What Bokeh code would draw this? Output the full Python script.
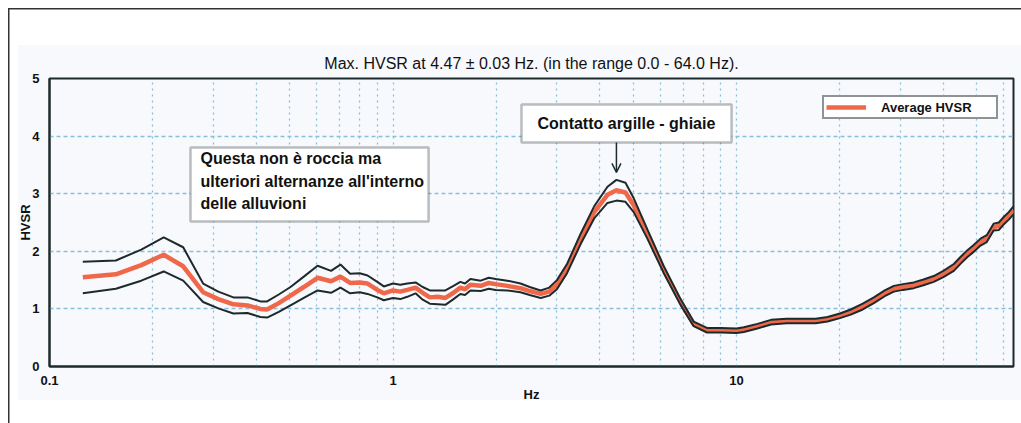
from bokeh.plotting import figure
from bokeh.models import (Range1d, FixedTicker, Label, BoxAnnotation, Arrow, OpenHead,
                          Legend, LegendItem, ColumnDataSource)
from bokeh.embed import file_html
from bokeh.resources import INLINE

# HVSR spectrum: frequency (Hz), average curve and the +/- standard deviation curves
freq = [0.125, 0.156, 0.185, 0.215, 0.245, 0.28, 0.31, 0.343, 0.377, 0.411, 0.43, 0.465,
        0.503, 0.55, 0.603, 0.66, 0.703, 0.75, 0.80, 0.843, 0.90, 0.94, 1.0, 1.05, 1.10,
        1.163, 1.22, 1.28, 1.35, 1.42, 1.50, 1.57, 1.62, 1.68, 1.80, 1.90, 1.99, 2.15,
        2.35, 2.5, 2.69, 2.85, 3.0, 3.21, 3.52, 3.85, 4.21, 4.47, 4.75, 5.02, 5.5, 6.14,
        6.87, 7.5, 8.2, 9.0, 10.0, 10.5, 11.5, 12.6, 14.0, 15.4, 17.0, 18.4, 20.0, 21.5,
        23.3, 25.1, 27.0, 28.7, 30.5, 32.8, 35.0, 37.5, 40.0, 42.9, 45.0, 47.0, 49.0,
        51.3, 53.5, 56.0, 58.0, 59.8, 62.0, 64.0]
hvsr_avg = [1.55, 1.60, 1.76, 1.94, 1.74, 1.29, 1.17, 1.08, 1.06, 1.00, 0.99, 1.10,
            1.23, 1.38, 1.54, 1.48, 1.56, 1.45, 1.46, 1.44, 1.33, 1.27, 1.32, 1.30, 1.33,
            1.37, 1.28, 1.20, 1.21, 1.19, 1.28, 1.37, 1.34, 1.42, 1.40, 1.45, 1.43, 1.40,
            1.36, 1.31, 1.26, 1.30, 1.42, 1.70, 2.22, 2.68, 2.98, 3.06, 3.02, 2.80, 2.30, 1.68,
            1.12, 0.74, 0.63, 0.63, 0.62, 0.64, 0.70, 0.77, 0.79, 0.79, 0.79, 0.82, 0.88, 0.94,
            1.04, 1.15, 1.27, 1.35, 1.38, 1.41, 1.46, 1.52, 1.60, 1.72, 1.85, 1.96, 2.05,
            2.16, 2.22, 2.42, 2.44, 2.53, 2.62, 2.72]
hvsr_hi = [1.82, 1.84, 2.03, 2.24, 2.07, 1.44, 1.30, 1.20, 1.20, 1.13, 1.13, 1.25,
           1.38, 1.56, 1.75, 1.66, 1.77, 1.61, 1.62, 1.58, 1.47, 1.39, 1.44, 1.42, 1.44,
           1.46, 1.38, 1.32, 1.32, 1.32, 1.40, 1.47, 1.44, 1.52, 1.49, 1.54, 1.52, 1.49,
           1.44, 1.38, 1.32, 1.37, 1.50, 1.78, 2.31, 2.78, 3.12, 3.24, 3.19, 2.92, 2.38, 1.74,
           1.17, 0.78, 0.67, 0.67, 0.66, 0.68, 0.74, 0.81, 0.83, 0.83, 0.83, 0.86, 0.92, 0.99,
           1.09, 1.20, 1.32, 1.40, 1.43, 1.46, 1.51, 1.57, 1.66, 1.78, 1.91, 2.02, 2.11,
           2.22, 2.28, 2.48, 2.50, 2.59, 2.68, 2.78]
hvsr_lo = [1.27, 1.35, 1.49, 1.65, 1.49, 1.12, 1.01, 0.92, 0.93, 0.86, 0.85, 0.95,
           1.06, 1.19, 1.32, 1.28, 1.37, 1.27, 1.29, 1.26, 1.20, 1.15, 1.19, 1.17, 1.21,
           1.27, 1.16, 1.09, 1.08, 1.07, 1.17, 1.26, 1.24, 1.32, 1.31, 1.35, 1.33, 1.32,
           1.29, 1.24, 1.19, 1.23, 1.34, 1.62, 2.13, 2.57, 2.84, 2.88, 2.86, 2.68, 2.22, 1.62,
           1.07, 0.70, 0.59, 0.59, 0.58, 0.60, 0.66, 0.73, 0.75, 0.75, 0.75, 0.78, 0.84, 0.90,
           0.99, 1.10, 1.22, 1.30, 1.33, 1.36, 1.41, 1.47, 1.55, 1.66, 1.79, 1.90, 1.99,
           2.10, 2.16, 2.36, 2.37, 2.46, 2.55, 2.64]

x_tick_values = [0.1, 1, 10]
x_tick_labels = ["0.1", "1", "10"]
y_tick_values = [0, 1, 2, 3, 4, 5]
x_grid_values = [0.1, 0.2, 0.3, 0.4, 0.5, 0.6, 0.7, 0.8, 0.9,
                 1, 2, 3, 4, 5, 6, 7, 8, 9,
                 10, 20, 30, 40, 50, 60]

FONT = "Liberation Sans"
DARK = "#1d2a2c"
ORANGE = "#f0684a"
GRID = "#86c0de"
PANEL = "#f8f9fc"

src = ColumnDataSource(dict(f=freq, avg=hvsr_avg, hi=hvsr_hi, lo=hvsr_lo))

p = figure(width=1021, height=423, x_axis_type="log",
           x_range=Range1d(0.1, 64), y_range=Range1d(0, 5),
           output_backend="svg", toolbar_location=None,
           min_border_left=49, min_border_right=8, min_border_top=78, min_border_bottom=57)
p.background_fill_color = PANEL
p.border_fill_alpha = 0
p.outline_line_color = DARK
p.outline_line_width = 2

# page behind the canvas: light panel plus the thin outer frame on the left and top
p.styles = {
    "background-color": "white",
    "background-image": (f"linear-gradient({PANEL}, {PANEL}), "
                         "linear-gradient(#333, #333), linear-gradient(#333, #333)"),
    "background-size": "1003px 355px, 1.5px 415px, 1013px 1.5px",
    "background-position": "18px 45px, 8px 8px, 8px 8px",
    "background-repeat": "no-repeat",
}

# title
p.title.text = "Max. HVSR at 4.47 \u00b1 0.03 Hz. (in the range 0.0 - 64.0 Hz)."
p.title.align = "center"
p.title.text_font = FONT
p.title.text_font_style = "normal"
p.title.text_font_size = "16px"
p.title.text_color = "#111111"
p.title.standoff = 13

# axes
for ax in (p.xaxis[0], p.yaxis[0]):
    ax.axis_line_color = DARK
    ax.axis_line_width = 2
    ax.major_tick_line_color = None
    ax.minor_tick_line_color = None
    ax.major_label_text_font = FONT
    ax.major_label_text_font_style = "bold"
    ax.major_label_text_font_size = "13px"
    ax.major_label_text_color = "#111111"
    ax.axis_label_text_font = FONT
    ax.axis_label_text_font_style = "bold"
    ax.axis_label_text_font_size = "13px"
    ax.axis_label_text_color = "#111111"

p.xaxis.ticker = FixedTicker(ticks=x_tick_values)
p.xaxis.major_label_overrides = dict(zip(x_tick_values, x_tick_labels))
p.xaxis.major_label_standoff = 3
p.xaxis.axis_label = "Hz"
p.xaxis.axis_label_standoff = -1

p.yaxis.ticker = FixedTicker(ticks=y_tick_values)
p.yaxis.major_label_standoff = 4
p.yaxis.axis_label = "HVSR"
p.yaxis.axis_label_standoff = -4

# dotted grid
p.xgrid.ticker = FixedTicker(ticks=x_grid_values)
p.xgrid.grid_line_color = GRID
p.xgrid.grid_line_dash = "2 4"
p.xgrid.grid_line_width = 1.3
p.ygrid.ticker = FixedTicker(ticks=[1, 2, 3, 4])
p.ygrid.grid_line_color = GRID
p.ygrid.grid_line_dash = "4 3"
p.ygrid.grid_line_width = 1.3

# curves
r_avg = p.line("f", "avg", source=src, line_color=ORANGE, line_width=4.5)
p.line("f", "hi", source=src, line_color=DARK, line_width=2)
p.line("f", "lo", source=src, line_color=DARK, line_width=2)

# note boxes
p.add_layout(BoxAnnotation(left=0.2573, right=1.269, top=3.802, bottom=2.517,
                           fill_color="white", fill_alpha=1, line_color=DARK, line_width=2.5))
p.add_layout(Label(x=0.2752, y=3.76,
                   text="Questa non \u00e8 roccia ma\nulteriori alternanze all'interno\ndelle alluvioni",
                   text_align="left", text_baseline="top", text_font=FONT, text_font_style="bold",
                   text_font_size="16px", text_line_height=1.33, text_color="#111111"))

p.add_layout(BoxAnnotation(left=2.366, right=9.67, top=4.549, bottom=3.889,
                           fill_color="white", fill_alpha=1, line_color=DARK, line_width=2.5))
p.add_layout(Label(x=4.78, y=4.22, text="Contatto argille - ghiaie",
                   text_align="center", text_baseline="middle", text_font=FONT,
                   text_font_style="bold", text_font_size="16px", text_color="#111111"))
p.add_layout(Arrow(x_start=4.47, y_start=3.889, x_end=4.47, y_end=3.37,
                   line_color=DARK, line_width=1.5,
                   end=OpenHead(size=9, line_color=DARK, line_width=1.5)))

# legend
legend = Legend(items=[LegendItem(label="Average HVSR", renderers=[r_avg])],
                location=(773, 247), padding=2, margin=0, spacing=0,
                glyph_width=40, glyph_height=16, label_height=16, label_width=113,
                label_standoff=15, label_text_font=FONT, label_text_font_style="bold",
                label_text_font_size="13px", label_text_color="#111111",
                border_line_color=DARK, border_line_width=2.5,
                background_fill_color="white", background_fill_alpha=1)
p.add_layout(legend)

open("out.html", "w").write(file_html(p, INLINE))
